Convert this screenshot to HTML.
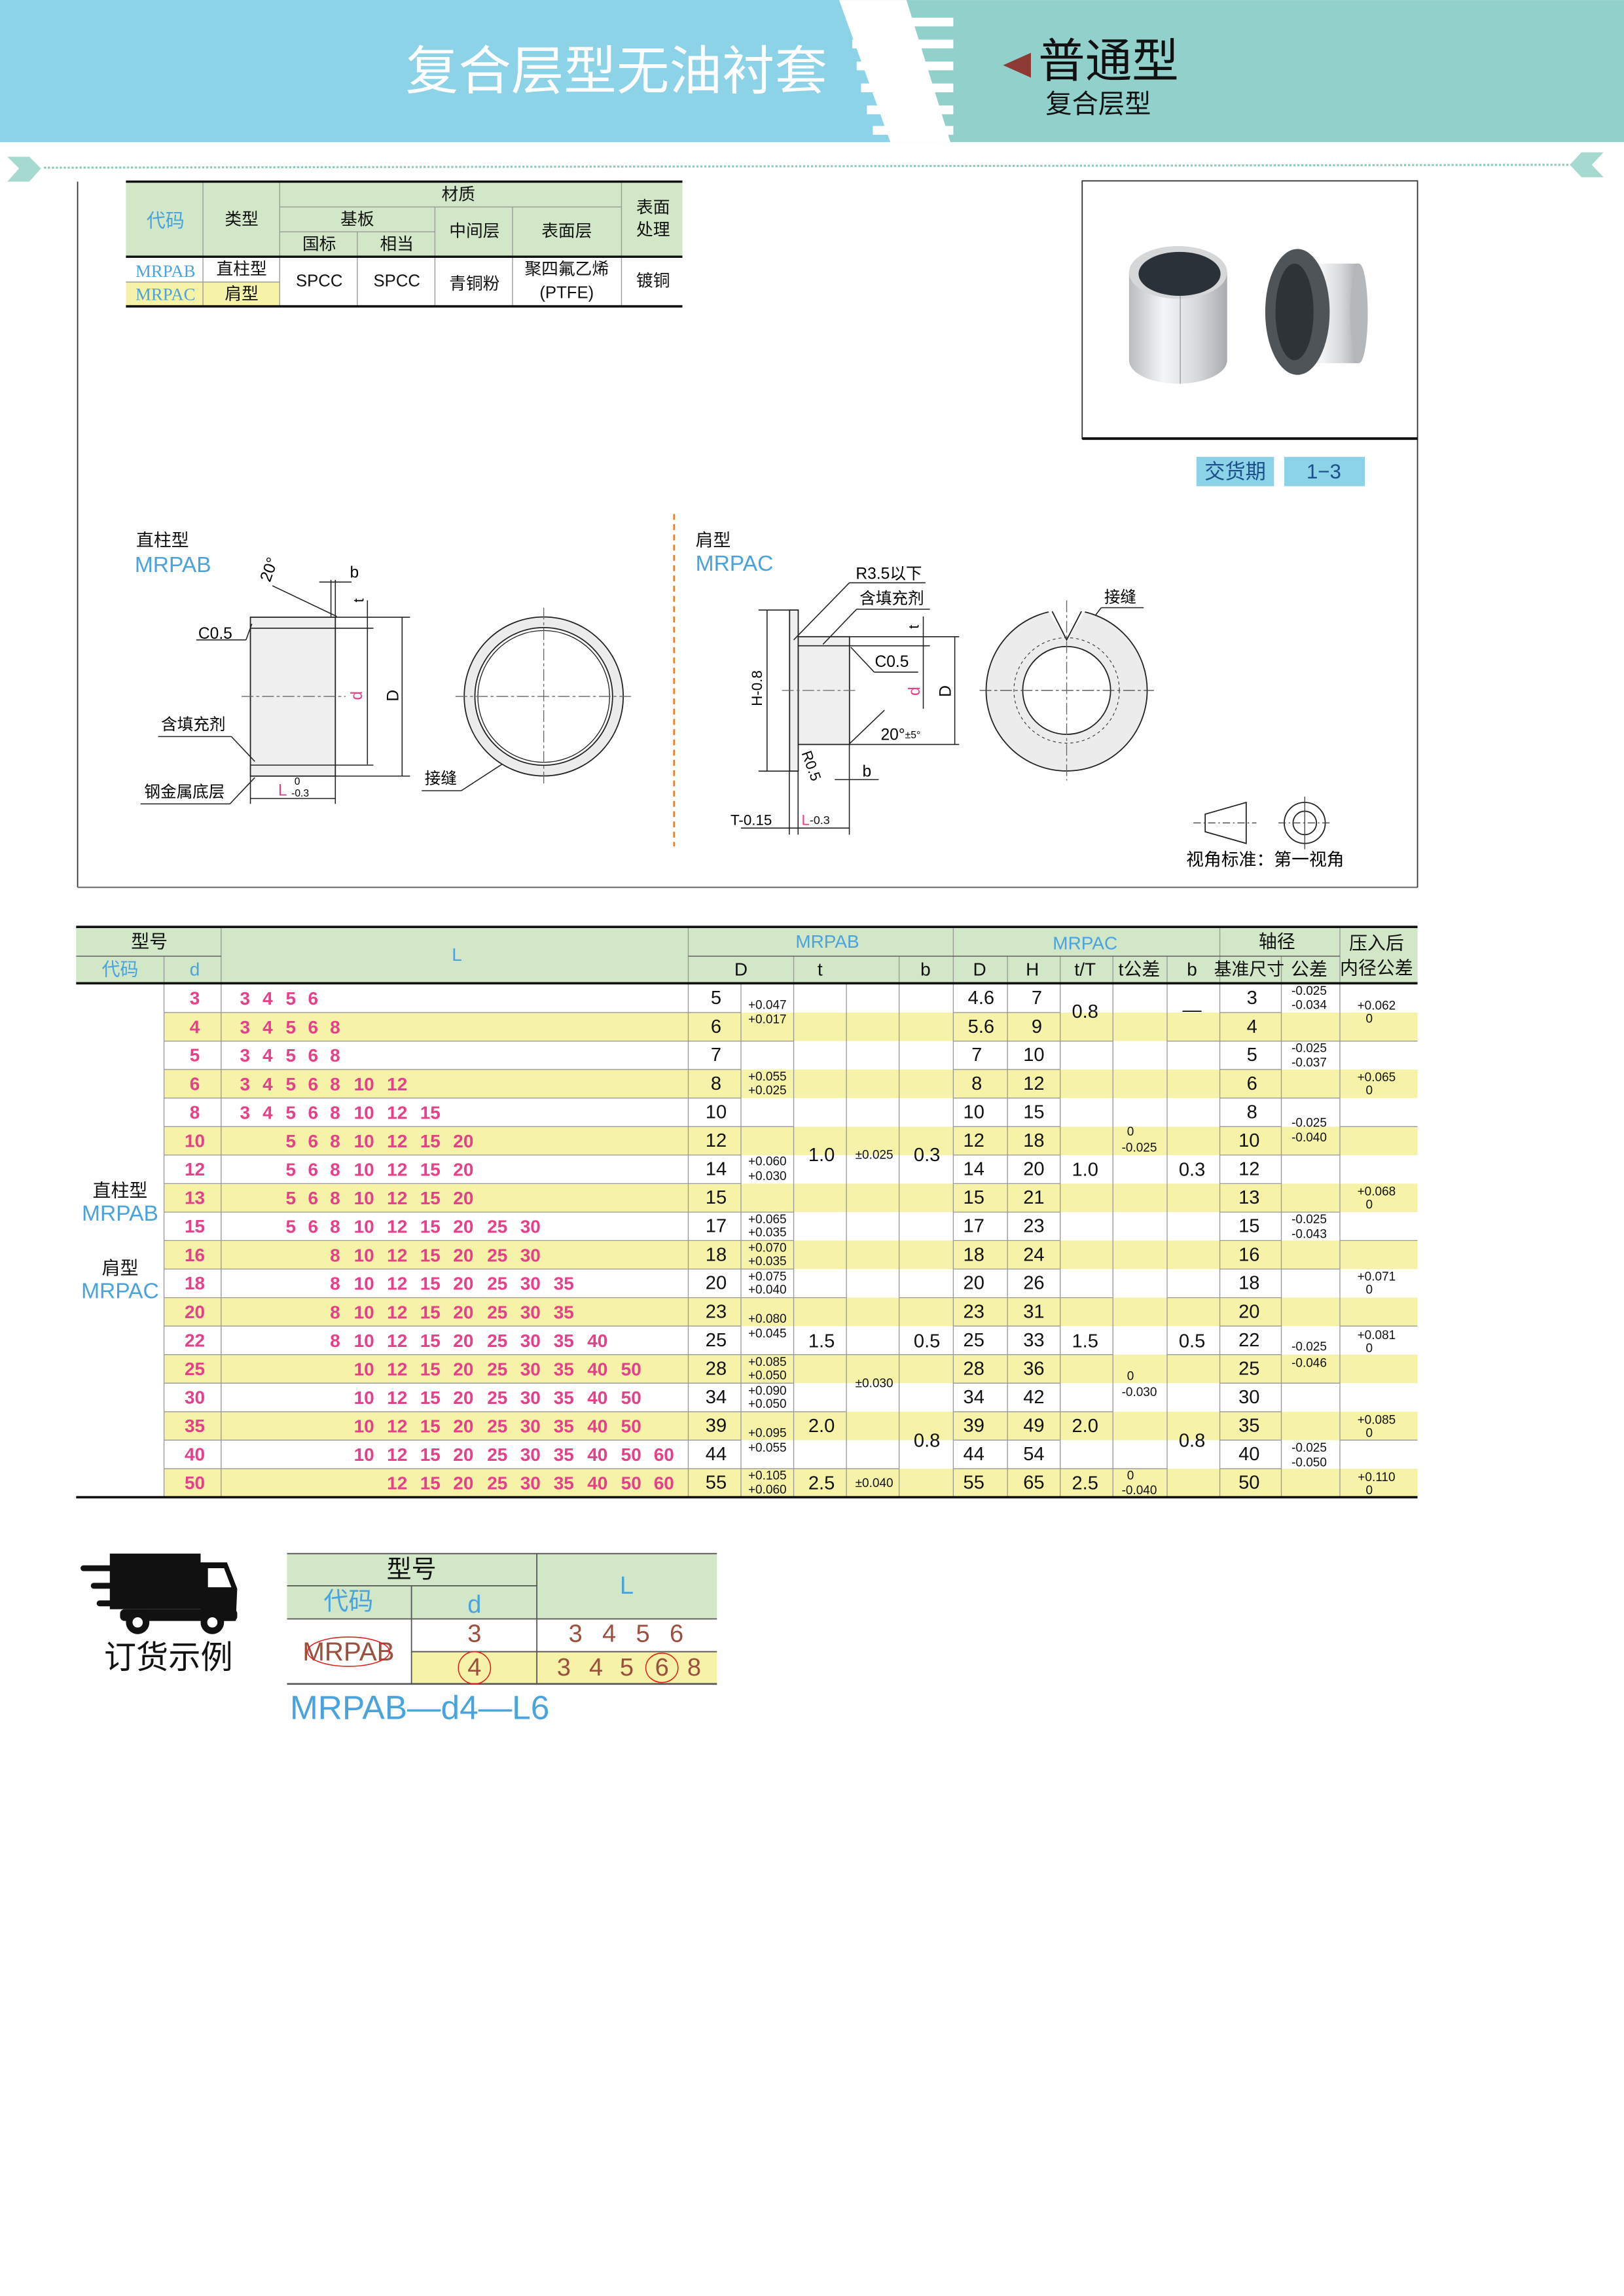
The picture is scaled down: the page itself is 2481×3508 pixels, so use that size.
<!DOCTYPE html>
<html><head><meta charset="utf-8">
<style>
html,body{margin:0;padding:0;background:#fff;width:2481px;height:3508px;overflow:hidden}
svg{display:block}
text{font-family:"Liberation Sans","Noto Sans CJK SC",sans-serif;text-anchor:middle;dominant-baseline:central}
.n{font-size:13px;fill:#111}
.h{font-size:12.5px;fill:#111}
.b{fill:#4aa3dc}
.s{font-size:8.5px;fill:#111}
.p{font-size:12.5px;fill:#e5408a;font-weight:bold}
.m{font-size:11.5px;fill:#111}
.g{stroke:#999;stroke-width:0.6}
.k{stroke:#111;stroke-width:1.6}
.d{stroke:#222;stroke-width:0.7;fill:none}
.l{text-anchor:start}
</style></head><body>
<svg width="2481" height="3508" viewBox="0 0 1109 1568" xmlns="http://www.w3.org/2000/svg">
<!-- HEADER -->
<rect x="0" y="0" width="1109" height="97" fill="#92d1cb"/>
<polygon points="0,0 573,0 608,97 0,97" fill="#8dd3e8"/>
<polygon points="573,0 619,0 649,97 608,97" fill="#fff"/>
<g fill="#fff">
<rect x="580" y="12" width="71" height="6"/><rect x="582" y="27" width="69" height="6"/>
<rect x="585" y="42" width="66" height="6"/><rect x="588" y="57" width="63" height="6"/>
<rect x="592" y="72" width="59" height="6"/><rect x="596" y="86" width="55" height="6"/>
</g>
<text x="421" y="49" style="font-size:36px;fill:#fff">复合层型无油衬套</text>
<polygon points="704,36 685,44.5 704,53" fill="#8c3a33"/>
<text x="709" y="42" class="l" style="font-size:32px;fill:#111">普通型</text>
<text x="714" y="71" class="l" style="font-size:18px;fill:#111">复合层型</text>
<!-- dotted line -->
<line x1="30" y1="114.5" x2="1075" y2="112.5" stroke="#8ccbbd" stroke-width="1.4" stroke-dasharray="1.5,1.2"/>
<polygon points="5,107 20,107 28,115 20,124 5,124 13,115" fill="#a6d9cf"/>
<polygon points="1095,104 1080,104 1072,112.5 1080,121 1095,121 1087,112.5" fill="#a6d9cf"/>
<!-- main box -->
<line x1="53" y1="124" x2="53" y2="606" stroke="#333" stroke-width="0.8"/>
<line x1="53" y1="606" x2="968" y2="606" stroke="#777" stroke-width="1"/>
<line x1="968" y1="124" x2="968" y2="606" stroke="#333" stroke-width="0.8"/>
<!-- MATERIAL TABLE -->
<rect x="86" y="124" width="380" height="51.5" fill="#d2e7c8"/>
<rect x="86" y="192.6" width="105" height="16.6" fill="#f6f3a8"/>
<g class="g">
<line x1="138.6" y1="124" x2="138.6" y2="209"/><line x1="191" y1="124" x2="191" y2="209"/>
<line x1="244" y1="158.3" x2="244" y2="209"/><line x1="297" y1="141.3" x2="297" y2="209"/>
<line x1="350" y1="141.3" x2="350" y2="209"/><line x1="424.4" y1="124" x2="424.4" y2="209"/>
<line x1="191" y1="141.3" x2="424.4" y2="141.3"/><line x1="191" y1="158.3" x2="297" y2="158.3"/>
<line x1="86" y1="192.6" x2="191" y2="192.6"/>
</g>
<g class="k"><line x1="86" y1="124" x2="466" y2="124"/><line x1="86" y1="175.3" x2="466" y2="175.3"/><line x1="86" y1="209.2" x2="466" y2="209.2"/></g>
<g class="m">
<text x="313" y="133">材质</text><text x="244" y="150">基板</text><text x="218" y="167">国标</text><text x="271" y="167">相当</text>
<text x="324" y="158">中间层</text><text x="387" y="158">表面层</text><text x="446" y="142">表面</text><text x="446" y="157">处理</text>
<text x="113" y="151" class="b" style="font-size:13px">代码</text><text x="165" y="150">类型</text>
<text x="113" y="185" style="fill:#4aa3dc;font-family:'Liberation Serif',serif;font-size:12px">MRPAB</text>
<text x="113" y="201" style="fill:#4aa3dc;font-family:'Liberation Serif',serif;font-size:12px">MRPAC</text>
<text x="165" y="184">直柱型</text><text x="165" y="201">肩型</text>
<text x="218" y="192">SPCC</text><text x="271" y="192">SPCC</text><text x="324" y="194">青铜粉</text>
<text x="387" y="184">聚四氟乙烯</text><text x="387" y="200">(PTFE)</text><text x="446" y="192">镀铜</text>
</g>
<!-- PHOTO -->
<rect x="739" y="123.5" width="229" height="176" fill="#fff" stroke="#333" stroke-width="0.8"/>
<line x1="739" y1="299.5" x2="968" y2="299.5" stroke="#111" stroke-width="1.8"/>
<defs>
<linearGradient id="sv" x1="0" x2="1"><stop offset="0" stop-color="#b9bcbf"/><stop offset="0.35" stop-color="#f4f5f6"/><stop offset="0.7" stop-color="#d6d8da"/><stop offset="1" stop-color="#a8abaf"/></linearGradient>
</defs>
<rect x="771" y="186" width="67" height="60" fill="url(#sv)"/>
<ellipse cx="804.5" cy="246" rx="33.5" ry="16" fill="url(#sv)"/>
<ellipse cx="804.5" cy="186" rx="33.5" ry="18" fill="#d5d7d9"/>
<ellipse cx="805.5" cy="187" rx="28" ry="15" fill="#2a3139"/>
<line x1="806" y1="202" x2="806" y2="262" stroke="#999" stroke-width="0.6"/>
<rect x="888" y="180" width="40" height="68" fill="url(#sv)"/>
<ellipse cx="928" cy="214" rx="6" ry="34" fill="#b5b8bb"/>
<ellipse cx="886" cy="213" rx="22" ry="43" fill="#4f5459"/>
<ellipse cx="884" cy="213" rx="13" ry="33" fill="#2e3338"/>
<!-- delivery -->
<rect x="817" y="312" width="53" height="20" fill="#8dd3e8"/>
<rect x="877" y="312" width="55" height="20" fill="#8dd3e8"/>
<text x="843.5" y="322" style="font-size:14px;fill:#1c4f8c">交货期</text>
<text x="904" y="322" style="font-size:14px;fill:#1c4f8c">1−3</text>
<!-- LEFT DRAWING -->
<text x="93" y="369" class="l" style="font-size:12px;fill:#111">直柱型</text>
<text x="92" y="386" class="l b" style="font-size:15px">MRPAB</text>
<rect x="171" y="421.5" width="58" height="108.5" fill="#efefef" stroke="#222" stroke-width="0.8"/>
<line x1="171" y1="429" x2="229" y2="429" class="d"/><line x1="171" y1="522.5" x2="229" y2="522.5" class="d"/>
<line x1="165" y1="475.6" x2="236" y2="475.6" stroke="#666" stroke-width="0.6" stroke-dasharray="8,2,2,2"/>
<g class="d">
<line x1="229" y1="421.5" x2="280" y2="421.5"/><line x1="229" y1="530" x2="280" y2="530"/>
<line x1="229" y1="429" x2="255" y2="429"/><line x1="229" y1="522.5" x2="255" y2="522.5"/>
<line x1="274.6" y1="421.5" x2="274.6" y2="530"/><line x1="250.9" y1="410" x2="250.9" y2="522"/>
<line x1="226" y1="396" x2="226" y2="421"/><line x1="229" y1="396" x2="229" y2="421"/>
<line x1="218" y1="397.5" x2="240" y2="397.5"/>
<line x1="186" y1="400" x2="230" y2="421"/>
<line x1="171" y1="545.3" x2="229" y2="545.3"/><line x1="171" y1="530" x2="171" y2="549"/><line x1="229" y1="530" x2="229" y2="549"/>
<line x1="134" y1="437" x2="168" y2="437"/><line x1="168" y1="437" x2="172" y2="426"/>
<line x1="108" y1="503" x2="158" y2="503"/><line x1="158" y1="503" x2="174" y2="520"/>
<line x1="96" y1="549" x2="157" y2="549"/><line x1="157" y1="549" x2="174" y2="531"/>
<line x1="288" y1="540" x2="315" y2="540"/><line x1="315" y1="540" x2="355" y2="514"/>
</g>
<text x="184" y="389" transform="rotate(-70 184 389)" style="font-size:11px">20°</text>
<text x="242" y="391" style="font-size:11px">b</text>
<text x="245" y="410" transform="rotate(-90 245 410)" style="font-size:10px">t</text>
<text x="243.8" y="475" transform="rotate(-90 243.8 475)" style="font-size:11px;fill:#e5408a">d</text>
<text x="268.7" y="475" transform="rotate(-90 268.7 475)" style="font-size:11px">D</text>
<text x="147" y="433" style="font-size:11px">C0.5</text>
<text x="132" y="495" style="font-size:11px">含填充剂</text>
<text x="126" y="541" style="font-size:11px">钢金属底层</text>
<text x="193" y="540" style="font-size:11px;fill:#e5408a">L</text>
<text x="203" y="534" style="font-size:7px">0</text><text x="205" y="542" style="font-size:7px">-0.3</text>
<circle cx="371.3" cy="475.6" r="54.3" fill="#ececec" stroke="#222" stroke-width="0.8"/>
<circle cx="371.3" cy="475.6" r="47" fill="#fff" stroke="#222" stroke-width="0.8"/>
<circle cx="371.3" cy="475.6" r="45" fill="none" stroke="#222" stroke-width="0.6"/>
<line x1="311" y1="475.6" x2="432" y2="475.6" stroke="#666" stroke-width="0.6" stroke-dasharray="8,2,2,2"/>
<line x1="371.3" y1="415" x2="371.3" y2="536" stroke="#666" stroke-width="0.6" stroke-dasharray="8,2,2,2"/>
<text x="301" y="532" style="font-size:11px">接缝</text>
<line x1="460.3" y1="351" x2="460.3" y2="578" stroke="#f07c2a" stroke-width="1.2" stroke-dasharray="4,3"/>
<!-- RIGHT DRAWING -->
<text x="475" y="369" class="l" style="font-size:12px;fill:#111">肩型</text>
<text x="475" y="385" class="l b" style="font-size:15px">MRPAC</text>
<rect x="539.2" y="416.6" width="5.9" height="110" fill="#efefef" stroke="#222" stroke-width="0.8"/>
<rect x="545.1" y="434.8" width="35" height="73.6" fill="#efefef" stroke="#222" stroke-width="0.8"/>
<line x1="545" y1="441" x2="580" y2="441" class="d"/>
<line x1="534" y1="471.5" x2="586" y2="471.5" stroke="#666" stroke-width="0.6" stroke-dasharray="8,2,2,2"/>
<g class="d">
<line x1="580" y1="434.8" x2="655" y2="434.8"/><line x1="580" y1="508.4" x2="655" y2="508.4"/><line x1="580" y1="441" x2="635" y2="441"/>
<line x1="652" y1="434.8" x2="652" y2="508.4"/><line x1="630.5" y1="421" x2="630.5" y2="484"/>
<line x1="523.8" y1="416.6" x2="523.8" y2="526.6"/><line x1="518" y1="416.6" x2="539" y2="416.6"/><line x1="518" y1="526.6" x2="539" y2="526.6"/>
<line x1="580" y1="398" x2="632" y2="398"/><line x1="580" y1="398" x2="542" y2="437"/>
<line x1="585" y1="416" x2="635" y2="416"/><line x1="585" y1="416" x2="562" y2="440"/>
<line x1="597" y1="459" x2="627" y2="459"/><line x1="597" y1="459" x2="581" y2="442"/>
<line x1="580" y1="508" x2="604" y2="485"/>
<line x1="539" y1="527" x2="539" y2="570"/><line x1="545" y1="527" x2="545" y2="570"/><line x1="580" y1="508" x2="580" y2="570"/>
<line x1="506" y1="565.5" x2="580" y2="565.5"/>
<line x1="570" y1="532.4" x2="600" y2="532.4"/>
<line x1="752" y1="415" x2="781" y2="415"/><line x1="752" y1="415" x2="733" y2="440"/>
</g>
<text x="607" y="392" style="font-size:11px">R3.5以下</text>
<text x="609" y="409" style="font-size:11px">含填充剂</text>
<text x="609" y="452" style="font-size:11px">C0.5</text>
<text x="517" y="470" transform="rotate(-90 517 470)" style="font-size:10px">H-0.8</text>
<text x="624" y="428" transform="rotate(-90 624 428)" style="font-size:10px">t</text>
<text x="624.6" y="472" transform="rotate(-90 624.6 472)" style="font-size:11px;fill:#e5408a">d</text>
<text x="646" y="472" transform="rotate(-90 646 472)" style="font-size:11px">D</text>
<text x="615" y="502" style="font-size:11px">20°<tspan style="font-size:7px">±5°</tspan></text>
<text x="554" y="523" transform="rotate(70 554 523)" style="font-size:10px">R0.5</text>
<text x="592" y="527" style="font-size:11px">b</text>
<text x="513" y="560" style="font-size:10px">T-0.15</text>
<text x="557" y="560" style="font-size:10px;fill:#e5408a">L<tspan style="fill:#111;font-size:8px">-0.3</tspan></text>
<circle cx="728.4" cy="471.5" r="55" fill="#ececec" stroke="#222" stroke-width="0.8"/>
<polygon points="711,410 746,410 728.4,437" fill="#fff"/>
<polyline points="718.5,417.5 728.4,437 738.5,417.5" fill="none" stroke="#222" stroke-width="0.8"/>
<circle cx="728.4" cy="471.5" r="30" fill="#fff" stroke="#222" stroke-width="0.8"/>
<circle cx="728.4" cy="471.5" r="36" fill="none" stroke="#333" stroke-width="0.5" stroke-dasharray="2,2"/>
<line x1="669" y1="471.5" x2="788" y2="471.5" stroke="#444" stroke-width="0.6" stroke-dasharray="8,2,2,2"/>
<line x1="728.4" y1="410" x2="728.4" y2="533" stroke="#666" stroke-width="0.6" stroke-dasharray="8,2,2,2"/>
<text x="765" y="408" style="font-size:11px">接缝</text>
<polygon points="823,556 851,548 851,576 823,568" fill="none" stroke="#222" stroke-width="0.8"/>
<line x1="815" y1="562" x2="858" y2="562" stroke="#444" stroke-width="0.6" stroke-dasharray="5,2,1,2"/>
<circle cx="891" cy="562" r="14" fill="none" stroke="#222" stroke-width="0.8"/>
<circle cx="891" cy="562" r="8" fill="none" stroke="#222" stroke-width="0.8"/>
<line x1="873" y1="562" x2="909" y2="562" stroke="#444" stroke-width="0.6" stroke-dasharray="5,2,1,2"/>
<line x1="891" y1="544" x2="891" y2="580" stroke="#444" stroke-width="0.6"/>
<text x="864" y="587" style="font-size:12px">视角标准：第一视角</text>

<!-- MAIN TABLE -->
<rect x="52" y="633" width="916" height="38.5" fill="#d2e7c8"/>
<g fill="#f6f3a8">
<rect x="112" y="691.5" width="856" height="19.47"/><rect x="112" y="730.4" width="856" height="19.47"/>
<rect x="112" y="769.4" width="856" height="19.47"/><rect x="112" y="808.3" width="856" height="19.47"/>
<rect x="112" y="847.2" width="856" height="19.47"/><rect x="112" y="886.2" width="856" height="19.47"/>
<rect x="112" y="925.1" width="856" height="19.47"/><rect x="112" y="964.1" width="856" height="19.47"/>
<rect x="112" y="1003" width="856" height="19.5"/>
</g>
<g class="g">
<path d="M112 691.5H506M112 711H506M112 730.4H506M112 749.9H506M112 769.4H506M112 788.8H506M112 808.3H506M112 827.8H506M112 847.2H506M112 866.7H506M112 886.2H506M112 905.6H506M112 925.1H506M112 944.6H506M112 964.1H506M112 983.5H506M112 1003H506"/>
<path d="M651 691.5H724M651 711H724M651 730.4H724M651 749.9H724M651 769.4H724M651 788.8H724M651 808.3H724M651 827.8H724M651 847.2H724M651 866.7H724M651 886.2H724M651 905.6H724M651 925.1H724M651 944.6H724M651 964.1H724M651 983.5H724M651 1003H724"/>
<path d="M833 691.5H875M833 711H875M833 730.4H875M833 749.9H875M833 769.4H875M833 788.8H875M833 808.3H875M833 827.8H875M833 847.2H875M833 866.7H875M833 886.2H875M833 905.6H875M833 925.1H875M833 944.6H875M833 964.1H875M833 983.5H875M833 1003H875"/>
<path d="M506 711H542M506 769.4H542M506 827.8H542M506 847.2H542M506 866.7H542M506 886.2H542M506 925.1H542M506 944.6H542M506 964.1H542M506 1003H542"/>
<path d="M542 886.2H578M542 925.1H578M542 964.1H578M542 1003H578"/>
<path d="M578 925.1H614M578 1003H614M614 886.2H651M614 925.1H651"/>
<path d="M724 711H760M724 886.2H760M724 925.1H760M724 964.1H760M724 1003H760M760 1003H797"/>
<path d="M797 711H833M797 886.2H833M797 925.1H833"/>
<path d="M875 711H915M875 749.9H915M875 788.8H915M875 827.8H915M875 866.7H915M875 944.6H915"/>
<path d="M915 711H968M915 769.4H968M915 847.2H968M915 905.6H968M915 983.5H968"/>
<path d="M112 653V1022.5M151 633V1022.5M470 633V1022.5M506 671V1022.5M542 653V1022.5M578 671V1022.5M614 653V1022.5M651 633V1022.5M688 653V1022.5M724 653V1022.5M760 653V1022.5M797 653V1022.5M833 633V1022.5M875 653V1022.5M915 633V1022.5"/>
<path d="M52 653H151M470 653H915" style="stroke:#555"/>
</g>
<g class="k"><line x1="52" y1="633" x2="968" y2="633"/><line x1="52" y1="671.5" x2="968" y2="671.5"/><line x1="52" y1="1022.5" x2="968" y2="1022.5"/></g>
<g class="h">
<text x="102" y="643">型号</text><text x="82" y="662" class="b">代码</text><text x="133" y="662" class="b">d</text>
<text x="312" y="652" class="b">L</text>
<text x="565" y="643" class="b">MRPAB</text><text x="741" y="644" class="b">MRPAC</text>
<text x="872" y="643">轴径</text><text x="940" y="644">压入后</text><text x="940" y="661">内径公差</text>
<text x="506" y="662">D</text><text x="560" y="662">t</text><text x="632" y="662">b</text>
<text x="669" y="662">D</text><text x="705" y="662">H</text><text x="741" y="662">t/T</text><text x="778" y="662">t公差</text>
<text x="814" y="662">b</text><text x="853" y="662" style="font-size:12px">基准尺寸</text><text x="894" y="662">公差</text>
</g>
<g>
<text x="82" y="813" class="h">直柱型</text><text x="82" y="829" class="b" style="font-size:15px">MRPAB</text>
<text x="82" y="866" class="h">肩型</text><text x="82" y="882" class="b" style="font-size:15px">MRPAC</text>
</g>
<g class="p">
<text x="133" y="681.7">3</text><text x="133" y="701.2">4</text><text x="133" y="720.6">5</text><text x="133" y="740.1">6</text>
<text x="133" y="759.6">8</text><text x="133" y="779.1">10</text><text x="133" y="798.5">12</text><text x="133" y="818">13</text>
<text x="133" y="837.5">15</text><text x="133" y="857">16</text><text x="133" y="876.4">18</text><text x="133" y="895.9">20</text>
<text x="133" y="915.4">22</text><text x="133" y="934.8">25</text><text x="133" y="954.3">30</text><text x="133" y="973.8">35</text>
<text x="133" y="993.2">40</text><text x="133" y="1012.7">50</text>
</g>
<g class="p">
<text y="681.7"><tspan x="167.3">3</tspan><tspan x="182.8">4</tspan><tspan x="198.6">5</tspan><tspan x="213.8">6</tspan></text>
<text y="701.2"><tspan x="167.3">3</tspan><tspan x="182.8">4</tspan><tspan x="198.6">5</tspan><tspan x="213.8">6</tspan><tspan x="228.8">8</tspan></text>
<text y="720.6"><tspan x="167.3">3</tspan><tspan x="182.8">4</tspan><tspan x="198.6">5</tspan><tspan x="213.8">6</tspan><tspan x="228.8">8</tspan></text>
<text y="740.1"><tspan x="167.3">3</tspan><tspan x="182.8">4</tspan><tspan x="198.6">5</tspan><tspan x="213.8">6</tspan><tspan x="228.8">8</tspan><tspan x="248.6">10</tspan><tspan x="271.2">12</tspan></text>
<text y="759.6"><tspan x="167.3">3</tspan><tspan x="182.8">4</tspan><tspan x="198.6">5</tspan><tspan x="213.8">6</tspan><tspan x="228.8">8</tspan><tspan x="248.6">10</tspan><tspan x="271.2">12</tspan><tspan x="293.8">15</tspan></text>
<text y="779.1"><tspan x="198.6">5</tspan><tspan x="213.8">6</tspan><tspan x="228.8">8</tspan><tspan x="248.6">10</tspan><tspan x="271.2">12</tspan><tspan x="293.8">15</tspan><tspan x="316.4">20</tspan></text>
<text y="798.5"><tspan x="198.6">5</tspan><tspan x="213.8">6</tspan><tspan x="228.8">8</tspan><tspan x="248.6">10</tspan><tspan x="271.2">12</tspan><tspan x="293.8">15</tspan><tspan x="316.4">20</tspan></text>
<text y="818"><tspan x="198.6">5</tspan><tspan x="213.8">6</tspan><tspan x="228.8">8</tspan><tspan x="248.6">10</tspan><tspan x="271.2">12</tspan><tspan x="293.8">15</tspan><tspan x="316.4">20</tspan></text>
<text y="837.5"><tspan x="198.6">5</tspan><tspan x="213.8">6</tspan><tspan x="228.8">8</tspan><tspan x="248.6">10</tspan><tspan x="271.2">12</tspan><tspan x="293.8">15</tspan><tspan x="316.4">20</tspan><tspan x="339.6">25</tspan><tspan x="362.2">30</tspan></text>
<text y="857"><tspan x="228.8">8</tspan><tspan x="248.6">10</tspan><tspan x="271.2">12</tspan><tspan x="293.8">15</tspan><tspan x="316.4">20</tspan><tspan x="339.6">25</tspan><tspan x="362.2">30</tspan></text>
<text y="876.4"><tspan x="228.8">8</tspan><tspan x="248.6">10</tspan><tspan x="271.2">12</tspan><tspan x="293.8">15</tspan><tspan x="316.4">20</tspan><tspan x="339.6">25</tspan><tspan x="362.2">30</tspan><tspan x="385">35</tspan></text>
<text y="895.9"><tspan x="228.8">8</tspan><tspan x="248.6">10</tspan><tspan x="271.2">12</tspan><tspan x="293.8">15</tspan><tspan x="316.4">20</tspan><tspan x="339.6">25</tspan><tspan x="362.2">30</tspan><tspan x="385">35</tspan></text>
<text y="915.4"><tspan x="228.8">8</tspan><tspan x="248.6">10</tspan><tspan x="271.2">12</tspan><tspan x="293.8">15</tspan><tspan x="316.4">20</tspan><tspan x="339.6">25</tspan><tspan x="362.2">30</tspan><tspan x="385">35</tspan><tspan x="408">40</tspan></text>
<text y="934.8"><tspan x="248.6">10</tspan><tspan x="271.2">12</tspan><tspan x="293.8">15</tspan><tspan x="316.4">20</tspan><tspan x="339.6">25</tspan><tspan x="362.2">30</tspan><tspan x="385">35</tspan><tspan x="408">40</tspan><tspan x="431">50</tspan></text>
<text y="954.3"><tspan x="248.6">10</tspan><tspan x="271.2">12</tspan><tspan x="293.8">15</tspan><tspan x="316.4">20</tspan><tspan x="339.6">25</tspan><tspan x="362.2">30</tspan><tspan x="385">35</tspan><tspan x="408">40</tspan><tspan x="431">50</tspan></text>
<text y="973.8"><tspan x="248.6">10</tspan><tspan x="271.2">12</tspan><tspan x="293.8">15</tspan><tspan x="316.4">20</tspan><tspan x="339.6">25</tspan><tspan x="362.2">30</tspan><tspan x="385">35</tspan><tspan x="408">40</tspan><tspan x="431">50</tspan></text>
<text y="993.2"><tspan x="248.6">10</tspan><tspan x="271.2">12</tspan><tspan x="293.8">15</tspan><tspan x="316.4">20</tspan><tspan x="339.6">25</tspan><tspan x="362.2">30</tspan><tspan x="385">35</tspan><tspan x="408">40</tspan><tspan x="431">50</tspan><tspan x="453.4">60</tspan></text>
<text y="1012.7"><tspan x="271.2">12</tspan><tspan x="293.8">15</tspan><tspan x="316.4">20</tspan><tspan x="339.6">25</tspan><tspan x="362.2">30</tspan><tspan x="385">35</tspan><tspan x="408">40</tspan><tspan x="431">50</tspan><tspan x="453.4">60</tspan></text>
</g>
<g class="n">
<text x="489" y="681.7">5</text><text x="489" y="701.2">6</text><text x="489" y="720.6">7</text><text x="489" y="740.1">8</text>
<text x="489" y="759.6">10</text><text x="489" y="779.1">12</text><text x="489" y="798.5">14</text><text x="489" y="818">15</text>
<text x="489" y="837.5">17</text><text x="489" y="857">18</text><text x="489" y="876.4">20</text><text x="489" y="895.9">23</text>
<text x="489" y="915.4">25</text><text x="489" y="934.8">28</text><text x="489" y="954.3">34</text><text x="489" y="973.8">39</text>
<text x="489" y="993.2">44</text><text x="489" y="1012.7">55</text>
<text x="670" y="681.7">4.6</text><text x="670" y="701.2">5.6</text><text x="667" y="720.6">7</text><text x="667" y="740.1">8</text>
<text x="665" y="759.6">10</text><text x="665" y="779.1">12</text><text x="665" y="798.5">14</text><text x="665" y="818">15</text>
<text x="665" y="837.5">17</text><text x="665" y="857">18</text><text x="665" y="876.4">20</text><text x="665" y="895.9">23</text>
<text x="665" y="915.4">25</text><text x="665" y="934.8">28</text><text x="665" y="954.3">34</text><text x="665" y="973.8">39</text>
<text x="665" y="993.2">44</text><text x="665" y="1012.7">55</text>
<text x="708" y="681.7">7</text><text x="708" y="701.2">9</text><text x="706" y="720.6">10</text><text x="706" y="740.1">12</text>
<text x="706" y="759.6">15</text><text x="706" y="779.1">18</text><text x="706" y="798.5">20</text><text x="706" y="818">21</text>
<text x="706" y="837.5">23</text><text x="706" y="857">24</text><text x="706" y="876.4">26</text><text x="706" y="895.9">31</text>
<text x="706" y="915.4">33</text><text x="706" y="934.8">36</text><text x="706" y="954.3">42</text><text x="706" y="973.8">49</text>
<text x="706" y="993.2">54</text><text x="706" y="1012.7">65</text>
<text x="855" y="681.7">3</text><text x="855" y="701.2">4</text><text x="855" y="720.6">5</text><text x="855" y="740.1">6</text>
<text x="855" y="759.6">8</text><text x="853" y="779.1">10</text><text x="853" y="798.5">12</text><text x="853" y="818">13</text>
<text x="853" y="837.5">15</text><text x="853" y="857">16</text><text x="853" y="876.4">18</text><text x="853" y="895.9">20</text>
<text x="853" y="915.4">22</text><text x="853" y="934.8">25</text><text x="853" y="954.3">30</text><text x="853" y="973.8">35</text>
<text x="853" y="993.2">40</text><text x="853" y="1012.7">50</text>
<text x="561" y="789">1.0</text><text x="561" y="916">1.5</text><text x="561" y="974">2.0</text><text x="561" y="1013">2.5</text>
<text x="633" y="789">0.3</text><text x="633" y="916">0.5</text><text x="633" y="984">0.8</text>
<text x="741" y="691">0.8</text><text x="741" y="799">1.0</text><text x="741" y="916">1.5</text><text x="741" y="974">2.0</text><text x="741" y="1013">2.5</text>
<text x="814" y="690">—</text><text x="814" y="799">0.3</text><text x="814" y="916">0.5</text><text x="814" y="984">0.8</text>
</g>
<g class="s">
<text x="524" y="686.5">+0.047</text><text x="524" y="696.5">+0.017</text>
<text x="524" y="735.5">+0.055</text><text x="524" y="745">+0.025</text>
<text x="524" y="793.5">+0.060</text><text x="524" y="803.5">+0.030</text>
<text x="524" y="833">+0.065</text><text x="524" y="842">+0.035</text>
<text x="524" y="852.5">+0.070</text><text x="524" y="861.5">+0.035</text>
<text x="524" y="872">+0.075</text><text x="524" y="881">+0.040</text>
<text x="524" y="901">+0.080</text><text x="524" y="911">+0.045</text>
<text x="524" y="930.5">+0.085</text><text x="524" y="939.5">+0.050</text>
<text x="524" y="950">+0.090</text><text x="524" y="959">+0.050</text>
<text x="524" y="979">+0.095</text><text x="524" y="989">+0.055</text>
<text x="524" y="1008">+0.105</text><text x="524" y="1017.5">+0.060</text>
<text x="597" y="789">±0.025</text><text x="597" y="945">±0.030</text><text x="597" y="1013">±0.040</text>
<text x="772" y="773">0</text><text x="778" y="784">-0.025</text>
<text x="772" y="940">0</text><text x="778" y="951">-0.030</text>
<text x="772" y="1008">0</text><text x="778" y="1018">-0.040</text>
<text x="894" y="677">-0.025</text><text x="894" y="686.5">-0.034</text>
<text x="894" y="716">-0.025</text><text x="894" y="726">-0.037</text>
<text x="894" y="767">-0.025</text><text x="894" y="777">-0.040</text>
<text x="894" y="833">-0.025</text><text x="894" y="843">-0.043</text>
<text x="894" y="920">-0.025</text><text x="894" y="931">-0.046</text>
<text x="894" y="989">-0.025</text><text x="894" y="999">-0.050</text>
<text x="940" y="687">+0.062</text><text x="935" y="696">0</text>
<text x="940" y="736">+0.065</text><text x="935" y="745">0</text>
<text x="940" y="814">+0.068</text><text x="935" y="823">0</text>
<text x="940" y="872">+0.071</text><text x="935" y="881">0</text>
<text x="940" y="912">+0.081</text><text x="935" y="921">0</text>
<text x="940" y="970">+0.085</text><text x="935" y="979">0</text>
<text x="940" y="1009">+0.110</text><text x="935" y="1018">0</text>
</g>

<!-- ORDER EXAMPLE -->
<g fill="#111">
<rect x="75" y="1061" width="62" height="38"/>
<polygon points="137,1067 155,1067 162,1085 161,1107 137,1107"/>
<polygon points="142,1071 153,1071 158,1084 142,1084" fill="#fff"/>
<rect x="82" y="1099" width="80" height="8" rx="3"/>
<rect x="55" y="1069" width="45" height="4" rx="2"/>
<rect x="62" y="1081" width="40" height="4" rx="2"/>
<rect x="66" y="1093" width="35" height="4" rx="2"/>
<circle cx="94" cy="1108" r="8"/><circle cx="145" cy="1108" r="8"/>
<circle cx="94" cy="1108" r="3.5" fill="#fff"/><circle cx="145" cy="1108" r="3.5" fill="#fff"/>
</g>
<text x="115" y="1132" style="font-size:22px;fill:#111">订货示例</text>
<rect x="196" y="1061" width="293.6" height="44.6" fill="#d2e7c8"/>
<rect x="281" y="1128" width="208.6" height="22" fill="#f6f3a8"/>
<g stroke="#555" stroke-width="0.8">
<line x1="196" y1="1061" x2="489.6" y2="1061"/><line x1="196" y1="1083" x2="366.6" y2="1083"/>
<line x1="196" y1="1105.6" x2="489.6" y2="1105.6"/><line x1="281" y1="1128" x2="489.6" y2="1128"/>
<line x1="196" y1="1150" x2="489.6" y2="1150" stroke-width="1.2"/>
<line x1="281" y1="1083" x2="281" y2="1150"/><line x1="366.6" y1="1061" x2="366.6" y2="1150"/>
</g>
<text x="281" y="1072" style="font-size:17px;fill:#111">型号</text>
<text x="428" y="1083" style="font-size:17px;fill:#4aa3dc">L</text>
<text x="238" y="1094" style="font-size:17px;fill:#4aa3dc">代码</text>
<text x="324" y="1096" style="font-size:17px;fill:#4aa3dc">d</text>
<text x="238" y="1128" style="font-size:18px;fill:#9b4f3f">MRPAB</text>
<ellipse cx="238" cy="1128" rx="28" ry="10" fill="none" stroke="#e02020" stroke-width="0.7"/>
<g style="font-size:17px;fill:#9b4f3f">
<text x="324" y="1116">3</text><text x="324" y="1139">4</text>
<text y="1116"><tspan x="393">3</tspan><tspan x="416">4</tspan><tspan x="439">5</tspan><tspan x="462">6</tspan></text>
<text y="1139"><tspan x="385">3</tspan><tspan x="407">4</tspan><tspan x="428">5</tspan><tspan x="452">6</tspan><tspan x="474">8</tspan></text>
</g>
<circle cx="324" cy="1139" r="11" fill="none" stroke="#e02020" stroke-width="0.7"/>
<ellipse cx="452" cy="1139" rx="11" ry="10" fill="none" stroke="#e02020" stroke-width="0.7"/>
<text x="198" y="1166" class="l" style="font-size:23px;fill:#4aa3dc">MRPAB—d4—L6</text>
</svg>
</body></html>
